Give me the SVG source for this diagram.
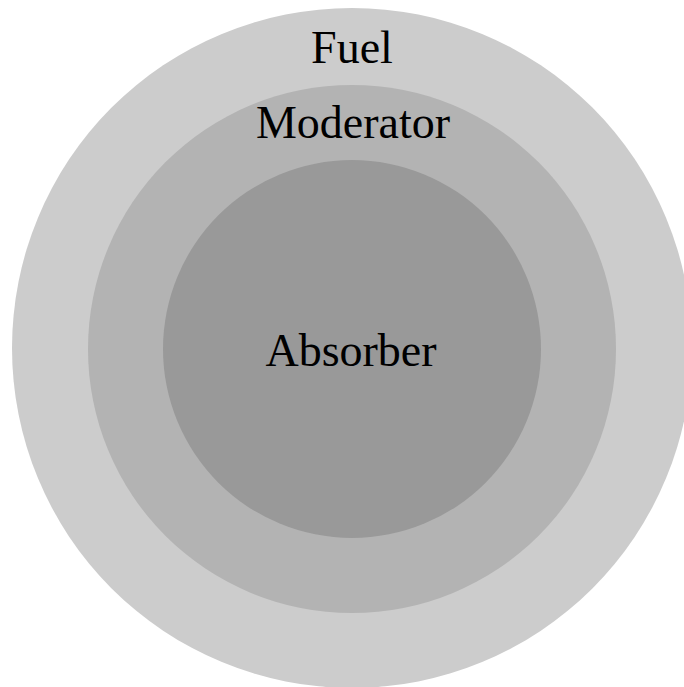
<svg xmlns="http://www.w3.org/2000/svg" width="684" height="687" viewBox="0 0 684 687">
<style>
text { font-family: "Liberation Serif", "DejaVu Serif", serif; font-size: 46px; fill: #000; text-anchor: middle; }
</style>
<rect width="684" height="687" fill="#fff"/>
<g id="fuel">
<circle cx="352" cy="348" r="340" fill="#cccccc"/>
<text x="352" y="63">Fuel</text>
</g>
<g id="moderator">
<circle cx="352" cy="349" r="264" fill="#b3b3b3"/>
<text x="353" y="138">Moderator</text>
</g>
<g id="absorber">
<circle cx="352" cy="349" r="189" fill="#999999"/>
<text x="351" y="366">Absorber</text>
</g>
<g id="connectors"/>
</svg>
